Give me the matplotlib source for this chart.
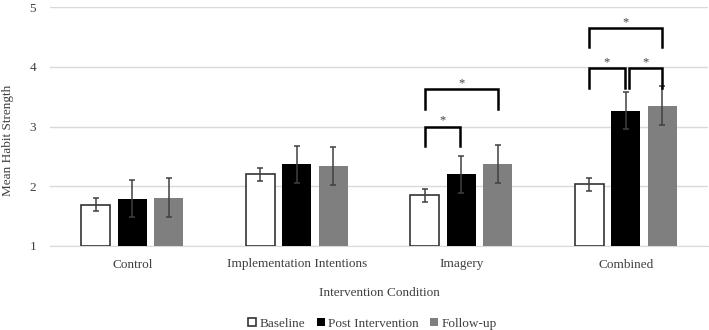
import matplotlib.pyplot as plt
import numpy as np

plt.rcParams['font.family'] = ['Liberation Serif', 'DejaVu Serif']

conditions = ["Control", "Implementation Intentions", "Imagery", "Combined"]
series = ["Baseline", "Post Intervention", "Follow-up"]
baseline = [1.69, 2.20, 1.85, 2.03]
post = [1.79, 2.37, 2.20, 3.26]
follow = [1.81, 2.34, 2.37, 3.35]
baseline_err = [0.11, 0.11, 0.11, 0.11]
post_err = [0.31, 0.31, 0.31, 0.31]
follow_err = [0.32, 0.32, 0.32, 0.32]

# significance brackets: (condition index, series a, series b, top y, leg bottom y)
brackets = [
    (2, 0, 1, 3.00, 2.67),
    (2, 0, 2, 3.63, 3.30),
    (3, 0, 1, 3.98, 3.65),
    (3, 1, 2, 3.98, 3.65),
    (3, 0, 2, 4.65, 4.33),
]

fig = plt.figure(figsize=(7.09, 3.30), dpi=100)
ax = fig.add_axes([50 / 709, 84 / 330, 658 / 709, 239 / 330])

x = np.arange(len(conditions))
width = 0.177
offset = 0.223
styles = [
    dict(color="white", edgecolor="#333333", linewidth=1.2),
    dict(color="black", edgecolor="black", linewidth=0),
    dict(color="#7f7f7f", edgecolor="#7f7f7f", linewidth=0),
]
vals = [baseline, post, follow]
errs = [baseline_err, post_err, follow_err]
for i, (v, e, st, name) in enumerate(zip(vals, errs, styles, series)):
    xs = x + (i - 1) * offset
    ax.bar(xs, np.array(v) - 1, width, bottom=1, label=name, zorder=3, **st)
    ax.errorbar(xs, v, yerr=e, fmt="none", ecolor="#404040", elinewidth=1.1,
                capsize=2, capthick=1.1, zorder=4)

for ci, a, b, top, leg in brackets:
    xa = x[ci] + (a - 1) * offset
    xb = x[ci] + (b - 1) * offset
    if a == 1:
        xa += 0.02
    if b == 1:
        xb -= 0.005
    ax.plot([xa, xa, xb, xb], [leg, top, top, leg], color="black", lw=1.8,
            solid_joinstyle="miter", zorder=5)
    ax.text((xa + xb) / 2, top + 0.1, "*", ha="center", va="center",
            fontsize=9, color="#404040")

ax.set_xlim(-0.5, 3.5)
ax.set_ylim(1, 5)
ax.set_yticks([1, 2, 3, 4, 5])
ax.yaxis.grid(True, color="#d9d9d9", lw=1, zorder=0)
ax.set_axisbelow(True)
for s in ["top", "right", "left"]:
    ax.spines[s].set_visible(False)
ax.spines["bottom"].set_color("#d9d9d9")
ax.tick_params(length=0, labelsize=9.5, colors="#404040")
ax.tick_params(axis="y", pad=10)
ax.tick_params(axis="x", pad=9)
ax.set_xticks(x)
ax.set_xticklabels(conditions)
ax.set_ylabel("Mean Habit Strength", fontsize=9.5, color="#404040")
ax.yaxis.set_label_coords(-0.054, 0.443)
ax.set_xlabel("Intervention Condition", fontsize=9.5, color="#404040", labelpad=12)

leg = ax.legend(loc="upper center", bbox_to_anchor=(0.49, -0.25), ncol=3,
                frameon=False, fontsize=9.5, handlelength=0.6, handleheight=0.6,
                handletextpad=0.25, columnspacing=0.9)
for t in leg.get_texts():
    t.set_color("#404040")

fig.savefig("out.png", dpi=100)
